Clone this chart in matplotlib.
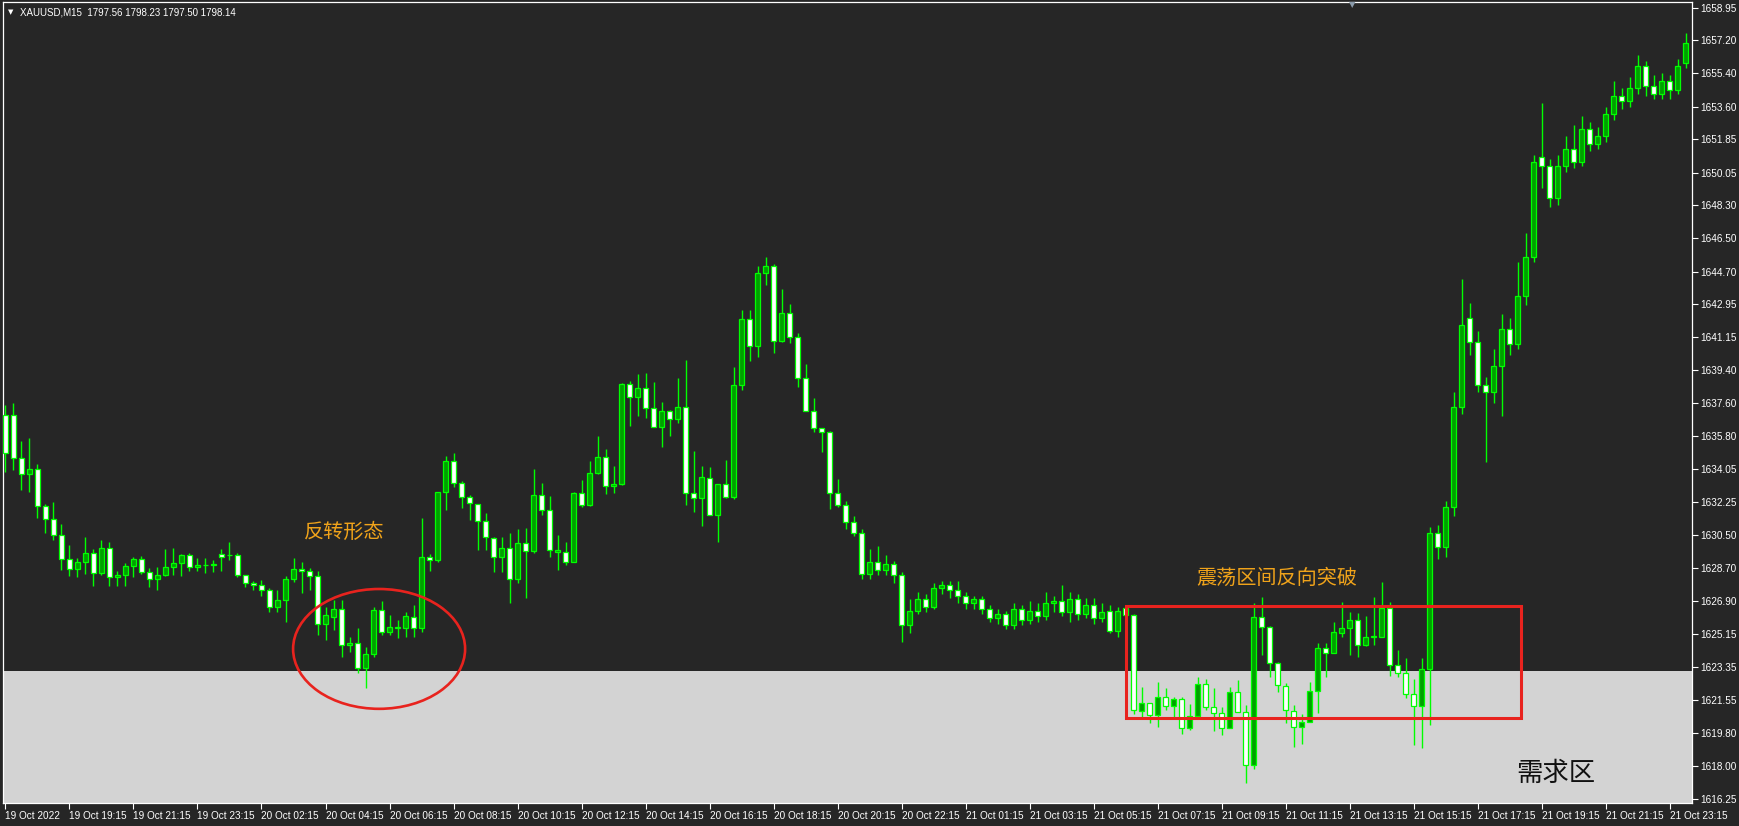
import matplotlib
matplotlib.use("Agg")
import matplotlib.pyplot as plt
import matplotlib.transforms as mtransforms
from matplotlib.patches import Ellipse, Rectangle
import numpy as np

# ---------------- data (XAUUSD M15) ----------------
opens = [1636.96, 1636.96, 1634.62, 1633.76, 1634.03, 1632.06, 1631.33, 1630.46, 1629.17, 1628.63,
         1629.02, 1629.49, 1628.45, 1629.76, 1628.23, 1628.32, 1628.81, 1629.17, 1628.50, 1628.09,
         1628.30, 1628.77, 1628.95, 1629.40, 1628.74, 1628.85, 1628.86, 1629.44, 1629.38, 1629.40,
         1628.30, 1627.87, 1627.76, 1627.49, 1626.61, 1626.97, 1628.09, 1628.63, 1628.54, 1628.28,
         1625.66, 1626.07, 1626.47, 1624.52, 1624.63, 1623.28, 1624.06, 1626.43, 1625.22, 1625.44,
         1625.44, 1626.03, 1625.48, 1629.31, 1629.13, 1632.78, 1634.49, 1633.27, 1632.55, 1632.14,
         1631.25, 1630.30, 1629.27, 1629.76, 1628.09, 1630.03, 1629.63, 1632.64, 1631.83, 1629.58,
         1629.58, 1629.04, 1632.77, 1632.10, 1633.81, 1634.71, 1633.13, 1633.22, 1638.63, 1637.91,
         1638.40, 1637.32, 1636.33, 1637.20, 1636.73, 1637.37, 1632.77, 1632.46, 1633.54, 1631.56,
         1633.24, 1632.51, 1638.58, 1642.13, 1640.69, 1644.65, 1645.01, 1640.97, 1642.45, 1641.15,
         1638.94, 1637.20, 1636.24, 1636.03, 1632.73, 1632.10, 1631.20, 1630.60, 1628.40, 1629.00,
         1628.60, 1628.90, 1628.30, 1625.60, 1626.40, 1627.00, 1626.60, 1627.60, 1627.80, 1627.50,
         1627.20, 1626.80, 1627.00, 1626.50, 1626.00, 1626.20, 1625.60, 1626.50, 1625.90, 1626.40,
         1626.10, 1626.80, 1626.90, 1626.30, 1627.00, 1626.20, 1626.70, 1626.00, 1626.40, 1625.30,
         1626.52, 1626.16, 1620.99, 1621.43, 1620.76, 1621.75, 1621.25, 1621.61, 1620.04, 1620.71,
         1622.43, 1621.17, 1620.89, 1620.04, 1622.02, 1620.94, 1618.06, 1626.07, 1625.49, 1623.59,
         1622.33, 1620.99, 1620.09, 1620.40, 1622.07, 1624.36, 1624.13, 1625.21, 1625.44, 1625.89,
         1624.54, 1624.99, 1624.99, 1626.52, 1623.46, 1623.01, 1621.90, 1621.25, 1623.23, 1630.60,
         1629.85, 1632.00, 1637.40, 1642.20, 1640.90, 1638.60, 1638.20, 1639.60, 1641.60, 1640.80,
         1643.40, 1645.50, 1650.90, 1650.40, 1648.70, 1650.40, 1651.30, 1650.60, 1652.40, 1651.60,
         1652.00, 1653.20, 1654.20, 1653.90, 1654.60, 1655.80, 1654.70, 1654.30, 1655.00, 1654.50,
         1655.97]
highs = [1637.50, 1637.63, 1635.56, 1635.70, 1634.31, 1632.15, 1632.28, 1631.07, 1629.94, 1629.22,
         1630.35, 1629.71, 1630.21, 1630.10, 1628.55, 1628.99, 1629.31, 1629.35, 1628.68, 1628.77,
         1629.71, 1629.76, 1629.46, 1629.49, 1629.22, 1629.22, 1629.13, 1629.71, 1630.12, 1629.53,
         1628.30, 1628.02, 1628.05, 1627.60, 1627.51, 1628.27, 1629.22, 1629.04, 1628.68, 1628.54,
         1626.61, 1626.97, 1626.97, 1624.95, 1625.44, 1624.45, 1626.61, 1626.93, 1626.16, 1625.89,
         1626.34, 1626.70, 1631.38, 1629.45, 1632.82, 1634.75, 1634.93, 1633.40, 1632.64, 1632.15,
         1631.65, 1630.35, 1630.35, 1630.61, 1630.79, 1630.84, 1634.03, 1633.31, 1632.59, 1630.48,
         1630.12, 1632.82, 1633.45, 1634.49, 1635.83, 1635.11, 1634.21, 1638.71, 1638.81, 1639.17,
         1639.21, 1638.76, 1637.64, 1637.23, 1638.94, 1639.93, 1635.03, 1634.21, 1634.17, 1633.26,
         1634.53, 1639.57, 1642.63, 1642.63, 1645.01, 1645.47, 1645.11, 1643.75, 1642.94, 1641.37,
         1639.71, 1637.86, 1636.24, 1636.11, 1633.49, 1632.30, 1631.50, 1630.80, 1629.70, 1629.90,
         1629.40, 1629.10, 1628.50, 1627.00, 1627.40, 1627.30, 1627.90, 1628.00, 1628.00, 1628.00,
         1627.40, 1627.20, 1627.20, 1626.70, 1626.50, 1626.40, 1626.80, 1626.70, 1626.90, 1626.80,
         1627.40, 1627.20, 1627.80, 1627.40, 1627.30, 1627.10, 1627.10, 1626.80, 1626.70, 1626.60,
         1626.60, 1626.20, 1622.29, 1621.43, 1622.56, 1622.20, 1621.75, 1621.75, 1621.35, 1622.83,
         1622.69, 1622.20, 1621.21, 1622.29, 1622.65, 1621.30, 1626.79, 1627.11, 1625.57, 1623.64,
         1622.47, 1621.30, 1620.81, 1622.56, 1624.63, 1624.63, 1625.80, 1626.88, 1626.34, 1626.25,
         1626.11, 1627.11, 1627.96, 1626.88, 1624.27, 1623.82, 1622.69, 1623.82, 1630.90, 1631.00,
         1632.30, 1638.20, 1644.30, 1643.00, 1641.50, 1639.00, 1640.50, 1642.40, 1642.20, 1645.20,
         1646.80, 1651.00, 1653.80, 1650.80, 1651.00, 1652.00, 1652.60, 1653.10, 1652.80, 1652.50,
         1653.60, 1655.00, 1654.60, 1655.20, 1656.40, 1656.10, 1655.30, 1655.40, 1655.30, 1656.20,
         1657.60]
lows = [1633.90, 1633.99, 1632.91, 1632.82, 1631.38, 1630.57, 1630.21, 1628.59, 1628.27, 1628.20,
        1628.38, 1627.73, 1628.32, 1627.73, 1627.73, 1627.73, 1628.23, 1628.38, 1627.66, 1627.50,
        1628.27, 1628.32, 1628.27, 1628.56, 1628.56, 1628.41, 1628.50, 1628.55, 1629.13, 1628.23,
        1627.69, 1627.51, 1627.19, 1626.34, 1626.34, 1625.80, 1627.96, 1627.37, 1627.51, 1625.08,
        1624.81, 1625.35, 1623.91, 1624.18, 1623.01, 1622.20, 1623.88, 1625.08, 1625.08, 1624.90,
        1624.99, 1624.99, 1625.26, 1628.55, 1629.04, 1631.83, 1633.09, 1631.92, 1631.29, 1629.67,
        1629.67, 1628.50, 1628.50, 1626.79, 1627.87, 1627.06, 1629.49, 1631.56, 1629.31, 1628.59,
        1628.86, 1629.04, 1632.01, 1632.05, 1633.77, 1632.69, 1632.73, 1633.18, 1636.37, 1636.91,
        1636.78, 1636.33, 1635.25, 1635.83, 1636.51, 1632.10, 1631.74, 1630.97, 1631.56, 1630.12,
        1632.46, 1632.41, 1638.31, 1639.90, 1640.11, 1643.98, 1640.33, 1640.92, 1640.87, 1638.45,
        1637.20, 1636.06, 1634.98, 1631.87, 1632.01, 1630.80, 1630.40, 1628.10, 1628.10, 1628.30,
        1628.30, 1627.90, 1624.70, 1625.20, 1626.20, 1626.30, 1626.50, 1627.30, 1627.10, 1626.80,
        1626.50, 1626.50, 1626.20, 1625.80, 1625.70, 1625.40, 1625.40, 1625.60, 1625.70, 1625.80,
        1625.90, 1626.30, 1626.10, 1625.80, 1625.90, 1626.00, 1625.70, 1625.80, 1625.20, 1625.00,
        1626.00, 1620.80, 1620.67, 1620.31, 1620.10, 1621.03, 1620.67, 1619.73, 1619.95, 1620.67,
        1621.03, 1619.91, 1619.68, 1620.04, 1620.94, 1617.07, 1617.83, 1624.00, 1622.83, 1622.02,
        1620.35, 1619.01, 1619.19, 1620.40, 1620.85, 1622.79, 1624.13, 1624.99, 1624.00, 1623.91,
        1624.49, 1624.54, 1624.99, 1622.87, 1622.79, 1621.66, 1619.14, 1618.96, 1620.22, 1629.17,
        1629.31, 1631.50, 1637.00, 1640.20, 1638.20, 1634.40, 1637.60, 1636.90, 1640.20, 1640.50,
        1642.90, 1645.20, 1649.20, 1648.20, 1648.30, 1650.10, 1650.30, 1650.40, 1651.20, 1651.30,
        1651.70, 1652.90, 1653.50, 1653.60, 1654.30, 1654.20, 1654.00, 1654.00, 1654.00, 1654.30,
        1655.70]
closes = [1634.93, 1634.62, 1633.76, 1634.03, 1632.06, 1631.33, 1630.46, 1629.17, 1628.63, 1629.02,
          1629.49, 1628.45, 1629.76, 1628.23, 1628.32, 1628.81, 1629.17, 1628.50, 1628.09, 1628.30,
          1628.77, 1628.95, 1629.40, 1628.74, 1628.85, 1628.86, 1628.90, 1629.31, 1629.42, 1628.30,
          1627.87, 1627.76, 1627.49, 1626.61, 1626.97, 1628.09, 1628.63, 1628.54, 1628.28, 1625.66,
          1626.14, 1626.47, 1624.52, 1624.63, 1623.28, 1624.06, 1626.43, 1625.22, 1625.53, 1625.53,
          1626.10, 1625.48, 1629.27, 1629.13, 1632.78, 1634.49, 1633.27, 1632.55, 1632.19, 1631.25,
          1630.35, 1629.27, 1629.76, 1628.09, 1630.03, 1629.63, 1632.64, 1631.83, 1629.67, 1629.67,
          1629.04, 1632.77, 1632.10, 1633.81, 1634.71, 1633.13, 1633.22, 1638.63, 1637.95, 1638.40,
          1637.32, 1636.33, 1637.20, 1636.73, 1637.37, 1632.77, 1632.46, 1633.60, 1631.56, 1633.24,
          1632.51, 1638.58, 1642.13, 1640.69, 1644.61, 1645.01, 1640.97, 1642.45, 1641.15, 1638.94,
          1637.20, 1636.24, 1636.03, 1632.77, 1632.10, 1631.20, 1630.60, 1628.40, 1629.00, 1628.60,
          1628.90, 1628.30, 1625.60, 1626.40, 1627.00, 1626.60, 1627.60, 1627.80, 1627.50, 1627.20,
          1626.80, 1627.00, 1626.50, 1626.00, 1626.20, 1625.60, 1626.50, 1625.90, 1626.40, 1626.10,
          1626.80, 1626.90, 1626.30, 1627.00, 1626.20, 1626.70, 1626.00, 1626.30, 1625.30, 1626.40,
          1626.16, 1621.03, 1621.43, 1620.76, 1621.75, 1621.25, 1621.64, 1620.04, 1620.71, 1622.43,
          1621.21, 1620.89, 1620.04, 1622.02, 1620.94, 1618.06, 1626.07, 1625.49, 1623.59, 1622.38,
          1621.03, 1620.09, 1620.40, 1622.07, 1624.36, 1624.09, 1625.26, 1625.44, 1625.89, 1624.54,
          1624.99, 1625.02, 1626.52, 1623.46, 1623.05, 1621.90, 1621.25, 1623.23, 1630.60, 1629.85,
          1632.00, 1637.40, 1641.80, 1640.90, 1638.60, 1638.20, 1639.60, 1641.60, 1640.80, 1643.40,
          1645.50, 1650.60, 1650.40, 1648.70, 1650.40, 1651.30, 1650.60, 1652.40, 1651.60, 1652.00,
          1653.20, 1654.20, 1653.90, 1654.60, 1655.80, 1654.70, 1654.30, 1655.00, 1654.50, 1655.80,
          1657.05]

price_ticks = [1658.95, 1657.20, 1655.40, 1653.60, 1651.85, 1650.05, 1648.30, 1646.50, 1644.70,
               1642.95, 1641.15, 1639.40, 1637.60, 1635.80, 1634.05, 1632.25, 1630.50, 1628.70,
               1626.90, 1625.15, 1623.35, 1621.55, 1619.80, 1618.00, 1616.25]
time_labels = ['19 Oct 2022', '19 Oct 19:15', '19 Oct 21:15', '19 Oct 23:15', '20 Oct 02:15',
               '20 Oct 04:15', '20 Oct 06:15', '20 Oct 08:15', '20 Oct 10:15', '20 Oct 12:15',
               '20 Oct 14:15', '20 Oct 16:15', '20 Oct 18:15', '20 Oct 20:15', '20 Oct 22:15',
               '21 Oct 01:15', '21 Oct 03:15', '21 Oct 05:15', '21 Oct 07:15', '21 Oct 09:15',
               '21 Oct 11:15', '21 Oct 13:15', '21 Oct 15:15', '21 Oct 17:15', '21 Oct 19:15',
               '21 Oct 21:15', '21 Oct 23:15']
bars_per_label = 8
title_text = 'XAUUSD,M15  1797.56 1798.23 1797.50 1798.14'
demand_top = 1623.12
note_reversal = '反转形态'
note_breakout = '震荡区间反向突破'
note_demand = '需求区'

# ---------------- style ----------------
plt.rcParams['font.family'] = ['Liberation Sans', 'Noto Sans CJK SC', 'DejaVu Sans']
BG = '#262626'
ZONE = '#d3d3d3'
LIME = '#00ff00'
BULL = '#00a000'
BEAR = '#ffffff'
ORANGE = '#f0a31a'
RED = '#e8231e'

W, H = 1739, 826
fig = plt.figure(figsize=(W / 100, H / 100), dpi=100, facecolor=BG)
ax = fig.add_axes([3 / W, 23 / H, (1692 - 3) / W, (803 - 2) / H])
ax.set_facecolor(BG)

o = np.array(opens); h = np.array(highs); l = np.array(lows); c = np.array(closes)
x = np.arange(len(o))

ax.set_xlim(-0.31, 210.8)
ax.set_ylim(1616.01, 1659.26)

# demand zone
ax.axhspan(1610, demand_top, color=ZONE, zorder=0, lw=0)

# wicks
ax.vlines(x, l, h, color=LIME, lw=1.0, zorder=2)
# bodies
up = c >= o
bottoms = np.minimum(o, c)
heights = np.abs(c - o)
ax.bar(x[up], heights[up], bottom=bottoms[up], width=0.55, color=BULL,
       edgecolor=LIME, linewidth=0.9, zorder=3)
ax.bar(x[~up], heights[~up], bottom=bottoms[~up], width=0.55, color=BEAR,
       edgecolor=LIME, linewidth=0.9, zorder=3)

# annotations
ax.text(42.3, 1630.64, note_reversal, color=ORANGE, fontsize=14.5, ha='center', va='center',
        family=['Noto Sans CJK SC', 'DejaVu Sans'], zorder=5)
ax.text(158.9, 1628.16, note_breakout, color=ORANGE, fontsize=14.5, ha='center', va='center',
        family=['Noto Sans CJK SC', 'DejaVu Sans'], zorder=5)
ax.text(193.8, 1617.63, note_demand, color='#111111', fontsize=19, ha='center', va='center',
        family=['Noto Sans CJK SC', 'DejaVu Sans'], fontweight='light', zorder=5)
ax.add_patch(Ellipse((46.7, 1624.33), 21.5, 6.47, fill=False, ec=RED, lw=1.9, zorder=6))
ax.add_patch(Rectangle((140.1, 1620.6), 49.3, 6.03, fill=False, ec=RED, lw=2.2, zorder=6))

# axes / ticks
for s in ax.spines.values():
    s.set_color('#ffffff')
    s.set_linewidth(0.9)
ax.yaxis.tick_right()
ax.set_yticks(price_ticks)
ax.set_yticklabels([f'{v:.2f}' for v in price_ticks])
ax.set_xticks(np.arange(len(time_labels)) * bars_per_label)
ax.set_xticklabels(time_labels, ha='left')
ax.tick_params(axis='both', colors='#ffffff', labelcolor='#ffffff', labelsize=7.2,
               direction='out', length=4, width=0.8)
ax.tick_params(axis='y', pad=2)
ax.tick_params(axis='x', pad=2)
for lbl in ax.get_xticklabels():
    lbl.set_clip_on(False)

# header
fig.text(8 / W, 1 - 12.5 / H, '\u25BC', color='#ffffff', fontsize=5, va='center', ha='left',
         family='DejaVu Sans')
fig.text(20 / W, 1 - 12.5 / H, title_text, color='#ffffff', fontsize=7, va='center', ha='left')
# chart-shift marker
fig.text(1352 / W, 1 - 5 / H, '\u25BC', color='#8a9aaa', fontsize=6, va='center', ha='center',
         family='DejaVu Sans')

fig.savefig('out.png', dpi=100, facecolor=BG)
